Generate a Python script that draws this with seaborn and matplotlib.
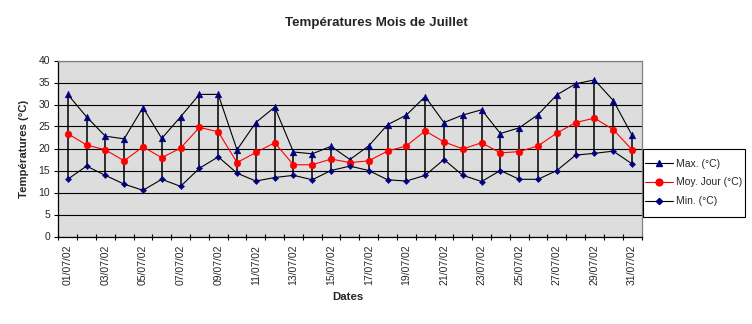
import matplotlib
matplotlib.use("Agg")
import matplotlib.pyplot as plt
from matplotlib.lines import Line2D
from matplotlib.patches import Rectangle
from matplotlib.ticker import FixedLocator, NullFormatter
import pandas as pd
import seaborn as sns

# Daily dates for July 2002
dates = ["01/07/02", "02/07/02", "03/07/02", "04/07/02", "05/07/02", "06/07/02",
         "07/07/02", "08/07/02", "09/07/02", "10/07/02", "11/07/02", "12/07/02",
         "13/07/02", "14/07/02", "15/07/02", "16/07/02", "17/07/02", "18/07/02",
         "19/07/02", "20/07/02", "21/07/02", "22/07/02", "23/07/02", "24/07/02",
         "25/07/02", "26/07/02", "27/07/02", "28/07/02", "29/07/02", "30/07/02",
         "31/07/02"]

temp_max = [32.3, 27.2, 22.8, 22.2, 29.3, 22.3, 27.2, 32.3, 32.3, 19.7, 25.9,
            29.4, 19.2, 18.8, 20.5, 17.5, 20.6, 25.4, 27.6, 31.8, 25.9, 27.6,
            28.8, 23.4, 24.7, 27.7, 32.2, 34.7, 35.6, 30.9, 23.0]
temp_moy = [23.4, 20.8, 19.7, 17.2, 20.4, 17.9, 20.1, 24.8, 23.8, 16.8, 19.1,
            21.3, 16.3, 16.3, 17.6, 16.8, 17.2, 19.4, 20.6, 24.0, 21.5, 19.9,
            21.3, 19.0, 19.3, 20.6, 23.5, 25.9, 26.9, 24.3, 19.7]
temp_min = [13.0, 16.0, 13.9, 11.9, 10.5, 13.0, 11.4, 15.5, 18.1, 14.4, 12.6,
            13.4, 13.9, 12.9, 15.0, 16.0, 15.0, 12.9, 12.6, 13.9, 17.5, 13.9,
            12.5, 15.0, 13.0, 13.0, 15.0, 18.5, 18.9, 19.4, 16.5]

series_names = ["Max. (°C)", "Moy. Jour (°C)", "Min. (°C)"]
y_ticks = [0, 5, 10, 15, 20, 25, 30, 35, 40]

sns.set_style("white")
plt.rcParams["font.family"] = ["Liberation Sans", "DejaVu Sans"]

idx = list(range(len(dates)))
frames = []
for name, vals in zip(series_names, [temp_max, temp_moy, temp_min]):
    frames.append(pd.DataFrame({"jour": idx, "temp": vals, "serie": name}))
df = pd.concat(frames, ignore_index=True)

line_colors = {series_names[0]: "black", series_names[1]: "#FF0000", series_names[2]: "black"}
mark_colors = {series_names[0]: "#000080", series_names[1]: "#FF0000", series_names[2]: "#000080"}
mark_shapes = {series_names[0]: "^", series_names[1]: "o", series_names[2]: "D"}
mark_sizes = {series_names[0]: 24, series_names[1]: 24, series_names[2]: 10}

W, H = 752, 324
fig = plt.figure(figsize=(W / 100, H / 100), dpi=100)
ax = fig.add_axes([58.3 / W, 1 - 236.5 / H, (641.5 - 58.3) / W, 176 / H])
ax.set_facecolor("#DDDDDD")

# High-low bars between daily min and max
ax.vlines(idx, temp_min, temp_max, colors="black", linewidth=1.1, zorder=2)

sns.lineplot(data=df, x="jour", y="temp", hue="serie", palette=line_colors,
             linewidth=0.8, legend=False, ax=ax, zorder=3)
for name in series_names:
    sub = df[df["serie"] == name]
    sns.scatterplot(data=sub, x="jour", y="temp", color=mark_colors[name],
                    marker=mark_shapes[name], s=mark_sizes[name], linewidth=0.3,
                    edgecolor=mark_colors[name], legend=False, ax=ax, zorder=4)

ax.set_xlim(-0.5, len(dates) - 0.5)
ax.set_ylim(0, 40)
ax.set_yticks(y_ticks)
ax.set_yticklabels([str(v) for v in y_ticks], fontsize=7.5)
ax.yaxis.grid(True, color="black", linewidth=0.8)
ax.set_axisbelow(True)

ax.set_xticks(idx[::2])
ax.set_xticklabels(dates[::2], rotation=90, fontsize=7.5)
ax.xaxis.set_minor_locator(FixedLocator([i - 0.5 for i in range(len(dates) + 1)]))
ax.xaxis.set_minor_formatter(NullFormatter())
ax.tick_params(axis="x", which="major", length=0, pad=6)
ax.tick_params(axis="x", which="minor", direction="inout", length=5, width=0.8,
               color="black", bottom=True)
ax.tick_params(axis="y", which="major", direction="out", length=3, width=0.8,
               color="black", pad=3, left=True)

for side in ("left", "bottom"):
    ax.spines[side].set_color("black")
    ax.spines[side].set_linewidth(0.9)
for side in ("top", "right"):
    ax.spines[side].set_color("#808080")
    ax.spines[side].set_linewidth(0.9)

ax.set_xlabel("")
ax.set_ylabel("")
fig.text(0.5, 1 - 22.7 / H, "Températures Mois de Juillet", ha="center",
         va="center", fontsize=9.6, fontweight="bold")
fig.text(348 / W, 1 - 297.5 / H, "Dates", ha="center", va="center",
         fontsize=8.2, fontweight="bold")
fig.text(24 / W, 1 - 148.5 / H, "Températures (°C)", ha="center", va="center",
         rotation=90, fontsize=8.2, fontweight="bold")

# Legend box on the right of the plot area
fig.patches.append(Rectangle((643.3 / W, 1 - 216.7 / H), (745 - 643.3) / W,
                             (216.7 - 149.3) / H, transform=fig.transFigure,
                             facecolor="white", edgecolor="black", linewidth=0.8,
                             zorder=0))
handles = [
    Line2D([], [], color=line_colors[n], linewidth=0.8, marker=mark_shapes[n],
           markerfacecolor=mark_colors[n], markeredgecolor=mark_colors[n],
           markersize=mark_sizes[n] ** 0.5)
    for n in series_names
]
leg = fig.legend(handles, series_names, loc="center left",
                 bbox_to_anchor=(645 / W, 1 - 182.5 / H), fontsize=7.5,
                 frameon=False, handlelength=2.7, handletextpad=0.25,
                 labelspacing=0.85, borderpad=0, borderaxespad=0)

fig.savefig("out.png", dpi=100)
